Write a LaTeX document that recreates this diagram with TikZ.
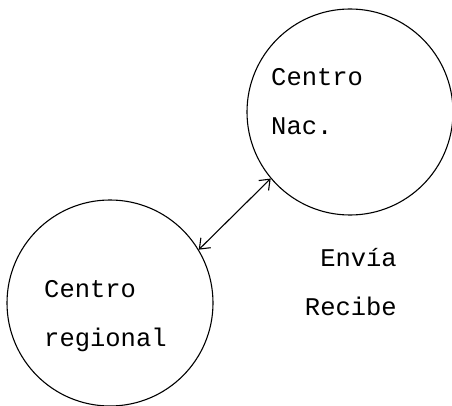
\documentclass[tikz,border=0pt]{standalone}
\usepackage{fontspec}
\setmonofont{Liberation Mono}
\usetikzlibrary{arrows.meta}
\tikzstyle{centro}=[draw,circle,line width=1.1pt,minimum size=206pt,inner sep=0pt]
\tikzstyle{txt}=[font=\ttfamily\fontsize{25.5}{49}\selectfont,inner sep=0pt,align=left]
\tikzstyle{flujo}=[{Straight Barb[length=9pt,width=14pt]}-{Straight Barb[length=9pt,width=14pt]},line width=1.1pt]

\begin{document}
\begin{tikzpicture}[x=1pt,y=-1pt]
                    \useasboundingbox (0,0) rectangle (452,406);
                    \node[centro] (nac) at (350,112) {};
                    \node[centro] (reg) at (110,303) {};
                    \node[txt,anchor=west] (nacT) at (271,102) {Centro\\Nac.};
                    \node[txt,anchor=west] (regT) at (44,316) {Centro\\regional};
                    \node[txt,anchor=east,align=right] (envia) at (397,282) {Envía\\Recibe};
                    \draw[flujo] (reg.31) -- (nac.220);
                \end{tikzpicture}
\end{document}
